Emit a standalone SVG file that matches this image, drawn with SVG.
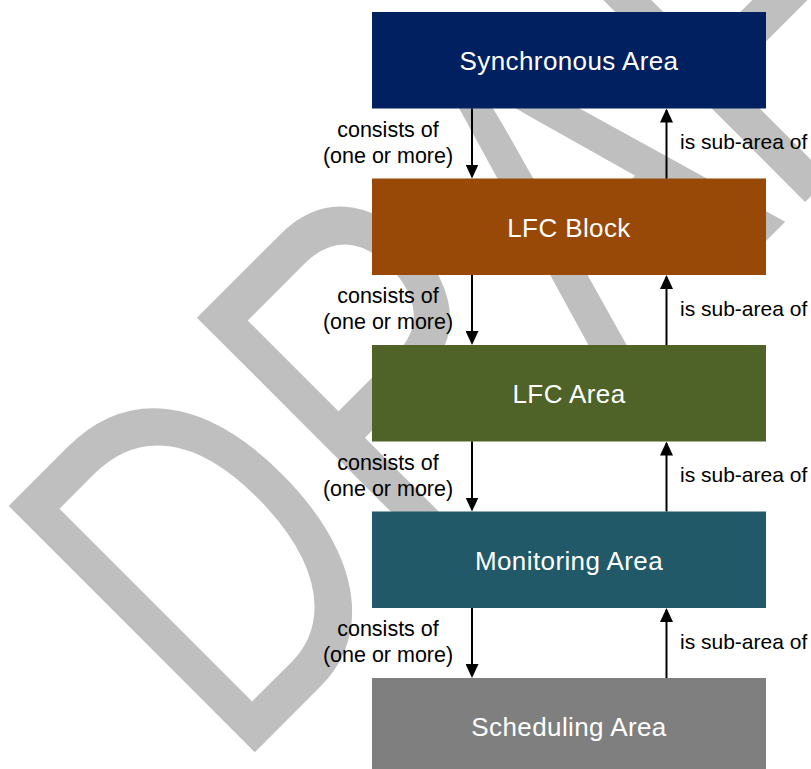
<svg xmlns="http://www.w3.org/2000/svg" width="811" height="769" viewBox="0 0 811 769">
  <style>
    .wm { font-family: "Liberation Sans", Arial, sans-serif; font-size: 506px; fill: #bfbfbf; }
    .box-label { font-family: "Liberation Sans", Arial, sans-serif; font-size: 26px; fill: #ffffff; text-anchor: middle; letter-spacing: 0.4px; }
    .edge-label { font-family: "Liberation Sans", Arial, sans-serif; font-size: 21.5px; fill: #000000; }
    .edge-label.mid { text-anchor: middle; }
    .edge-label.up { font-size: 21px; }
    .edge { stroke: #000000; stroke-width: 2; fill: none; marker-end: url(#arrow); }
  </style>
  <defs>
    <marker id="arrow" markerUnits="userSpaceOnUse" markerWidth="14" markerHeight="13" refX="12" refY="6.5" orient="auto">
      <path d="M0,0 L14,6.5 L0,13 Z" fill="#000000"/>
    </marker>
  </defs>

  <rect width="811" height="769" fill="#ffffff"/>

  <!-- background watermark, baseline running up-right from the lower left -->
  <g id="watermark">
    <text class="wm" transform="translate(255,752) rotate(-45) scale(0.72,1)" x="-41.8 327.9 704.9 1039 1432.8" y="0">DRAFT</text>
  </g>

  <!-- hierarchy levels -->
  <g id="synchronous-area">
    <rect x="372" y="12" width="394" height="96.5" fill="#002060"/>
    <text class="box-label" x="569" y="70">Synchronous Area</text>
  </g>
  <g id="lfc-block">
    <rect x="372" y="178.5" width="394" height="96.5" fill="#984807"/>
    <text class="box-label" x="569" y="236.5">LFC Block</text>
  </g>
  <g id="lfc-area">
    <rect x="372" y="345" width="394" height="96.5" fill="#4f6228"/>
    <text class="box-label" x="569" y="403">LFC Area</text>
  </g>
  <g id="monitoring-area">
    <rect x="372" y="511.5" width="394" height="96.5" fill="#215968"/>
    <text class="box-label" x="569" y="569.5">Monitoring Area</text>
  </g>
  <g id="scheduling-area">
    <rect x="372" y="678" width="394" height="91" fill="#7f7f7f"/>
    <text class="box-label" x="569" y="736">Scheduling Area</text>
  </g>

  <!-- relations between levels -->
  <g id="connectors">
    <path class="edge" d="M472,108.5 V176.5"/>
    <path class="edge" d="M666.5,178.5 V110.5"/>
    <text class="edge-label mid" x="388" y="136.5">consists of</text>
    <text class="edge-label mid" x="388" y="162.5">(one or more)</text>
    <text class="edge-label up" x="680" y="149">is sub-area of</text>

    <path class="edge" d="M472,275 V343"/>
    <path class="edge" d="M666.5,345 V277"/>
    <text class="edge-label mid" x="388" y="303">consists of</text>
    <text class="edge-label mid" x="388" y="329">(one or more)</text>
    <text class="edge-label up" x="680" y="315.5">is sub-area of</text>

    <path class="edge" d="M472,441.5 V509.5"/>
    <path class="edge" d="M666.5,511.5 V443.5"/>
    <text class="edge-label mid" x="388" y="469.5">consists of</text>
    <text class="edge-label mid" x="388" y="495.5">(one or more)</text>
    <text class="edge-label up" x="680" y="482">is sub-area of</text>

    <path class="edge" d="M472,608 V676"/>
    <path class="edge" d="M666.5,678 V610"/>
    <text class="edge-label mid" x="388" y="636">consists of</text>
    <text class="edge-label mid" x="388" y="662">(one or more)</text>
    <text class="edge-label up" x="680" y="648.5">is sub-area of</text>
  </g>
</svg>
